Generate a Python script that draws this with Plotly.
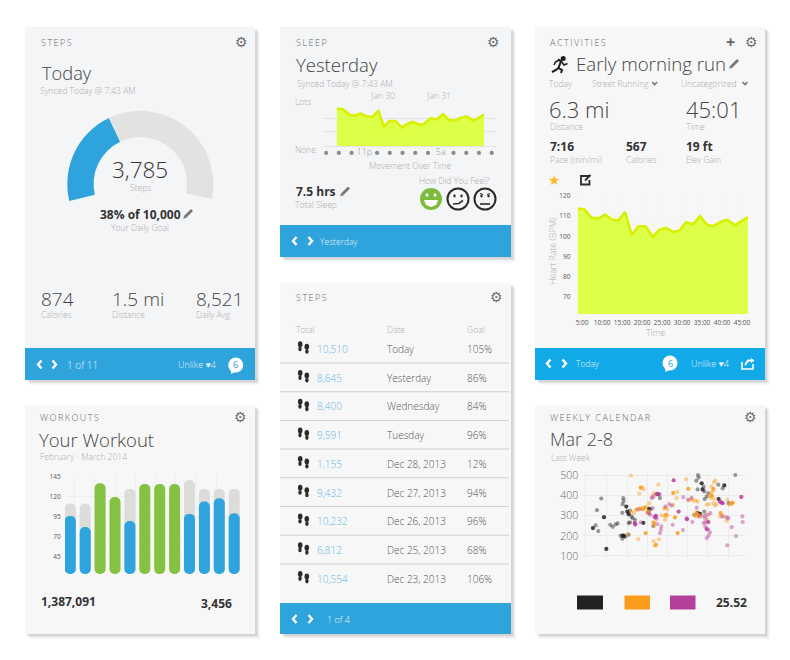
import plotly.graph_objects as go

W, H = 790, 660

# gauge
gauge_values = [38, 22.4, 25.9, 13.7, 75.6]

# sleep chart
sleep_hours = [-2.15, -1.68, -1.13, -0.73, -0.31, 0.18, 0.63, 1.10, 1.54, 1.96, 2.46, 2.93, 3.38,
               3.77, 4.24, 4.69, 5.18, 5.68, 6.18, 6.65, 7.12, 7.59, 8.04, 8.56, 9.01, 9.40]
sleep_move = [89.6, 88, 74.4, 72.8, 78.4, 71.2, 69.6, 84, 45.6, 60, 60, 44, 52.8,
              57.6, 52, 52.8, 66.4, 64, 76, 62.4, 60.8, 68, 70.4, 60.8, 68, 75.2]
sleep_dots = [-3, -2, -1, 1, 2, 3, 4, 5, 7, 8, 9, 10]
sleep_ticks = [0, 6]
sleep_ticktext = ["11p", "5a"]

# heart rate
run_minutes = [3.9, 5.6, 7.3, 9.1, 10.75, 12.4, 14.1, 15.75, 17.4, 19.1, 20.9, 22.7, 24.25,
               26, 27.7, 29.3, 31, 32.8, 34.5, 36.25, 37.8, 39.7, 41.3, 43.25, 44.9, 46.5]
run_bpm = [113.8, 113.3, 109.3, 108.8, 110.8, 108.3, 107.8, 112, 100.6, 105, 105, 99.7, 103,
           104.2, 102.2, 102.7, 107, 106, 110, 105.7, 105, 107.2, 108.2, 105.4, 107.7, 109.5]
run_ticks = [5, 10, 15, 20, 25, 30, 35, 40, 45]
run_ticktext = ["5:00", "10:00", "15:00", "20:00", "25:00", "30:00", "35:00", "40:00", "45:00"]
bpm_ticks = [70, 80, 90, 100, 110, 120]

# workouts
workout_idx = [0, 1, 2, 3, 4, 5, 6, 7, 8, 9, 10, 11]
workout_done = [95.7, 82, 136.4, 119.3, 89.4, 135.5, 135.5, 135.5, 98.2, 113.5, 117.7, 99]
workout_goal = [111, 111, None, None, 129.3, None, None, None, 140.5, 129.3, 129.3, 129.3]
workout_ticks = [45, 70, 95, 120, 145]

# steps table
step_totals = ["10,510", "8,645", "8,400", "9,591", "1,155", "9,432", "10,232", "6,812", "10,554"]
step_dates = ["Today", "Yesterday", "Wednesday", "Tuesday", "Dec 28, 2013", "Dec 27, 2013",
              "Dec 26, 2013", "Dec 25, 2013", "Dec 23, 2013"]
step_goals = ["105%", "86%", "84%", "96%", "12%", "94%", "96%", "68%", "106%"]

# weekly calendar scatter
black_x = [137, 145, 141, 154, 181, 188, 197, 203, 212, 217, 221, 226, 218, 221, 220, 217, 240, 244, 248, 255, 240, 236,
           236, 293, 302, 330, 326, 323, 310, 439, 444, 446, 461, 463, 443, 464, 470, 475, 505, 518, 556, 536, 463, 433]
black_y = [252, 224, 328, 386, 255, 245, 257, 262, 201, 186, 202, 196, 358, 374, 388, 315, 326, 297, 288, 280, 267, 264,
           206, 318, 333, 388, 407, 407, 249, 475, 503, 490, 445, 421, 431, 383, 396, 412, 455, 436, 503, 363, 321, 305]
black_dense_x = [129, 162, 169, 229, 232, 236, 280, 297, 455, 458, 523, 506, 443, 450, 222, 218]
black_dense_y = [239, 293, 135, 346, 321, 308, 265, 335, 462, 431, 451, 383, 313, 310, 199, 201]
orange_x = [243, 276, 281, 268, 325, 312, 308, 298, 290, 282, 272, 260, 252, 245, 342, 346, 352, 345, 352, 335, 294, 310,
            311, 265, 232, 327, 311, 315, 382, 380, 408, 436, 418, 424, 430, 437, 443, 476, 495, 499, 490, 483, 492, 496,
            484, 478, 485, 492, 482, 490, 440, 434, 437, 454, 476, 522, 532, 539, 530, 510, 470, 345, 370, 472]
orange_y = [500, 442, 432, 411, 455, 412, 399, 363, 346, 338, 340, 330, 313, 321, 336, 341, 333, 297, 302, 302, 313, 269,
            250, 184, 209, 183, 173, 151, 419, 388, 482, 523, 379, 384, 374, 376, 371, 358, 351, 358, 424, 416, 467, 475,
            445, 401, 396, 384, 388, 363, 321, 305, 297, 297, 305, 297, 379, 355, 275, 297, 355, 280, 355, 280]
orange_dense_x = [272, 370, 415, 287, 318, 375, 383, 348, 278, 284, 260, 490, 485, 512, 548, 545, 440, 446, 295, 312]
orange_dense_y = [440, 414, 434, 214, 156, 292, 214, 305, 333, 341, 331, 434, 401, 313, 366, 361, 308, 302, 321, 264]
magenta_x = [318, 329, 310, 308, 298, 300, 312, 320, 256, 272, 268, 322, 334, 333, 330, 346, 358, 365, 400, 414, 410, 399,
             368, 427, 440, 448, 461, 466, 470, 481, 466, 475, 480, 476, 470, 532, 545, 558, 517, 530, 535, 577, 578, 466,
             462, 425, 305]
magenta_y = [407, 407, 394, 338, 313, 305, 297, 285, 255, 267, 333, 259, 247, 231, 214, 346, 358, 351, 393, 379, 288, 229,
             255, 269, 341, 297, 264, 288, 305, 313, 247, 231, 217, 201, 189, 153, 244, 199, 297, 292, 288, 297, 269, 269,
             300, 389, 388]
magenta_dense_x = [371, 322, 316, 254, 386, 411, 475, 470, 510, 514, 518, 589, 574, 318, 256]
magenta_dense_y = [477, 409, 292, 264, 321, 283, 269, 234, 371, 366, 363, 275, 394, 300, 259]
cal_x_grid = [108, 170, 232, 292, 352, 412, 474, 534, 588]
cal_y_ticks = [100, 200, 300, 400, 500]

FONT = "Open Sans"
SOFT = "#adadad"
MID = "#666666"
BLUE = "#2fa3dc"
BLUE2 = "#12a9e8"
LIME = "#dcff47"
LIME_LINE = "#d9f000"
GRID = "#ececec"
FOOT_TEXT = "#e0f1fb"


def px(x):
    return x / W


def py(y):
    return 1 - y / H


shapes = []
notes = []


def rect(x0, y0, x1, y1, color, layer="below"):
    shapes.append(dict(type="rect", xref="paper", yref="paper", x0=px(x0), x1=px(x1), y0=py(y1), y1=py(y0),
                       fillcolor=color, line_width=0, layer=layer))


def oval(cx, cy, rx, ry, color, line=None, width=0):
    shapes.append(dict(type="circle", xref="paper", yref="paper", x0=px(cx - rx), x1=px(cx + rx),
                       y0=py(cy + ry), y1=py(cy - ry), fillcolor=color, line=dict(color=line, width=width),
                       layer="above"))


def path(points, color, width=0, fill=None, close=False):
    d = "M" + " L".join(f"{px(a):.5f},{py(b):.5f}" for a, b in points) + (" Z" if close else "")
    shapes.append(dict(type="path", xref="paper", yref="paper", path=d, fillcolor=fill,
                       line=dict(color=color, width=width), layer="above"))


def txt(x, y, s, size=8.5, color=SOFT, anchor="left", weight=300, family=FONT, angle=0):
    notes.append(dict(x=px(x), y=py(y), xref="paper", yref="paper", text=s, showarrow=False, xanchor=anchor,
                      yanchor="middle", textangle=angle, borderpad=0,
                      font=dict(family=family, size=size, color=color, weight=weight)))


def card(x0, y0, x1, y1, bg="#f7f7f7"):
    for off, a in [(5, 0.025), (4, 0.035), (3, 0.05), (2, 0.06)]:
        rect(x0 + off, y0 + off, x1 + off, y1 + off, f"rgba(0,0,0,{a})")
    rect(x0, y0, x1, y1, bg)


def header(x, y, label, gear_x):
    txt(x, y, "\u2009".join(label), 9, MID)
    txt(gear_x, y - 0.5, "⚙", 14, "#6e6e6e", "center", 700, "DejaVu Sans")


def chevrons(x0, x1, y):
    path([(x0 + 2.5, y - 4), (x0 - 1, y), (x0 + 2.5, y + 4)], "white", 2.4)
    path([(x1 - 2.5, y - 4), (x1 + 1, y), (x1 - 2.5, y + 4)], "white", 2.4)


def bubble(x, y, color):
    path([(x - 5, y + 4), (x - 4.5, y + 9), (x + 1, y + 6)], "white", 0, "white", True)
    oval(x, y, 7.5, 7.5, "white")
    txt(x, y, "6", 9, color, "center", 400)


def pencil(x, y):
    path([(x + 4, y - 4), (x - 2.5, y + 2.5)], "#777777", 2.8)
    path([(x - 3.8, y + 1.2), (x - 1.2, y + 3.8), (x - 4.8, y + 4.8)], "#777777", 0, "#777777", True)


def feet(y):
    for cx, top in [(300.2, y - 7.5), (306.8, y - 5)]:
        oval(cx, top + 2.8, 2.3, 3, "#2b2b2b")
        oval(cx - 0.2 + (0.3 if cx > 303 else 0), top + 7.5, 1.7, 2.3, "#2b2b2b")


# cards
card(25, 27, 255, 380, "#f4f5f7")
card(280, 27, 511, 257, "#f4f5f7")
card(535, 27, 765, 380)
card(25, 405, 255, 634)
card(280, 283, 511, 634)
card(535, 405, 765, 634)
rect(25, 348, 255, 380, BLUE)
rect(280, 225, 511, 257, BLUE)
rect(535, 348, 765, 380, BLUE2)
rect(280, 603, 511, 634, BLUE)

# steps card
header(39.5, 42.5, "STEPS", 241.5)
txt(41, 72, "Today", 18.3, "#444444")
txt(39, 90.5, "Synced Today @ 7:43 AM")
txt(140, 169.5, "3,785", 22.5, "#333333", "center")
txt(140, 187, "Steps", 8.5, SOFT, "center")
txt(140, 215, "38% of 10,000", 12, "#333333", "center", 700)
pencil(188, 214)
txt(140, 227, "Your Daily Goal", 8.5, SOFT, "center")
txt(39.5, 298.5, "874", 19, "#444444")
txt(39.5, 314.5, "Calories")
txt(111, 298.5, "1.5 mi", 19, "#444444")
txt(111, 314.5, "Distance")
txt(194.5, 298.5, "8,521", 19, "#444444")
txt(194.5, 314.5, "Daily Avg")
chevrons(39, 55, 364.5)
txt(65.5, 364.5, "1 of 11", 10, FOOT_TEXT)
txt(177, 365, "Unlike ♥4", 9, FOOT_TEXT)
bubble(235.7, 365, BLUE)

# sleep card
header(295, 42.5, "SLEEP", 493.5)
txt(295, 64.5, "Yesterday", 18.5, "#444444")
txt(295.5, 84, "Synced Today @ 7:43 AM")
txt(293.5, 101, "Lots")
txt(293.5, 149, "None")
txt(382, 96, "Jan 30", 8.7, SOFT, "center")
txt(438.5, 96, "Jan 31", 8.7, SOFT, "center")
txt(410.5, 165, "Movement Over Time", 8.5, SOFT, "center")
txt(455, 181, "How Did You Feel?", 8.5, SOFT, "center")
txt(295, 191.5, "7.5 hrs", 12, "#333333", weight=700)
pencil(345, 191.5)
txt(293.5, 204, "Total Sleep")
chevrons(294, 311, 241)
txt(319, 241, "Yesterday", 8.5, FOOT_TEXT)
oval(431, 199, 11, 11, "#7cbb3c")
oval(427, 195, 1.5, 1.8, "white")
oval(435, 195, 1.5, 1.8, "white")
path([(424, 200), (438, 200), (436, 205), (431, 207), (426, 205)], "white", 0, "white", True)
for cx in (458, 485):
    oval(cx, 199, 10.5, 10.5, "rgba(0,0,0,0)", "#2b2b2b", 2)
    oval(cx - 3.5, 196, 1.2, 1.4, "#2b2b2b")
    oval(cx + 3.5, 196, 1.2, 1.4, "#2b2b2b")
path([(453, 204), (459, 203.5), (463, 200.5)], "#2b2b2b", 1.6)
path([(480, 204), (490, 204)], "#2b2b2b", 1.6)
path([(480, 193.5), (483, 194.5)], "#2b2b2b", 1)
path([(487, 194.5), (490, 193.5)], "#2b2b2b", 1)

# activities card
header(549, 42.5, "ACTIVITIES", 751)
txt(730.7, 42, "+", 16, "#666666", "center", 700)
txt(575, 63, "Early morning run", 18.7, "#444444")
pencil(734, 64)
oval(563.2, 58.5, 2.5, 2.5, "#1d1d1d")
path([(558, 59.5), (561, 61), (558.5, 68), (562, 70), (561, 73)], "#1d1d1d", 2)
path([(561.5, 61.5), (564, 65), (567.5, 63.5)], "#1d1d1d", 1.6)
path([(558.5, 68), (556, 70), (552, 72)], "#1d1d1d", 2)
path([(559, 60), (555.5, 62), (554, 65)], "#1d1d1d", 1.6)
txt(548, 83.5, "Today")
txt(591, 83.5, "Street Running")
txt(680, 83.5, "Uncategorized")
for cx in (654.7, 745):
    path([(cx - 2.5, 82), (cx, 84.5), (cx + 2.5, 82)], "#777777", 1.6)
txt(548, 109, "6.3 mi", 22, "#444444")
txt(549, 126, "Distance")
txt(684.5, 109, "45:01", 22, "#444444")
txt(684.5, 126, "Time")
txt(548.5, 147, "7:16", 12, "#333333", weight=700)
txt(548.5, 159, "Pace (min/mi)")
txt(625, 147, "567", 12, "#333333", weight=700)
txt(625, 159, "Calories")
txt(684.5, 147, "19 ft", 12, "#333333", weight=700)
txt(684.5, 159, "Elev Gain")
txt(554.5, 179.5, "★", 14, "#fdb92e", "center", 400, "DejaVu Sans")
path([(589, 176), (581, 176), (581, 184.5), (589.5, 184.5), (589.5, 180)], "#2b2b2b", 1.8)
path([(585, 180.5), (590.5, 175)], "#2b2b2b", 1.8)
txt(655, 333, "Time", 8.8, SOFT, "center")
txt(553, 251, "Heart Rate (BPM)", 8.8, SOFT, "center", angle=-90)
chevrons(548, 565, 363.5)
txt(574.5, 363.5, "Today", 8.5, FOOT_TEXT)
bubble(670, 363, BLUE2)
txt(689.5, 363.5, "Unlike ♥4", 9, FOOT_TEXT)
path([(742, 362), (742, 369), (753, 369), (753, 364)], "white", 1.6)
path([(745, 365), (748, 360.5), (753, 360.5)], "white", 1.8)
path([(751, 358), (754.5, 360.5), (751, 363)], "white", 0, "white", True)

# workouts card
header(39, 417, "WORKOUTS", 240)
txt(37.5, 439, "Your Workout", 18.5, "#444444")
txt(38.5, 456.5, "February - March 2014")
txt(40, 601.5, "1,387,091", 12, "#333333", weight=700)
txt(200, 603, "3,456", 12, "#333333", weight=700)

# steps table card
header(295, 297.5, "STEPS", 496)
txt(295, 329.5, "Total")
txt(386, 329.5, "Date")
txt(466, 329.5, "Goal")
for i, (total, date, goal) in enumerate(zip(step_totals, step_dates, step_goals)):
    y = 349 + i * 28.7
    feet(y)
    txt(316, y, total, 10, "#63b8e4")
    txt(386, y, date, 10, "#555555")
    txt(466, y, goal, 10, "#555555")
    if i < 8:
        rect(280, y + 13.5, 509, y + 14.5, "#cfcfcf")
chevrons(294, 311, 619)
txt(326, 619, "1 of 4", 9, FOOT_TEXT)

# calendar card
header(549, 417, "WEEKLY CALENDAR", 750)
txt(549, 439, "Mar 2-8", 18, "#444444")
txt(549.5, 457, "Last Week")
rect(577, 595.5, 603, 609.5, "#222222", "above")
rect(624.5, 595.5, 650, 609.5, "#fa9d1c", "above")
rect(670, 595.5, 695.5, 609.5, "#b5409a", "above")
txt(748, 602, "25.52", 12, "#333333", "right", 700)

fig = go.Figure()

fig.add_trace(go.Pie(values=gauge_values, sort=False, direction="clockwise", rotation=-103.4, hole=0.64,
                     textinfo="none", hoverinfo="skip", showlegend=False,
                     marker=dict(colors=[BLUE, "#e2e2e0", "#e2e2e0", "#e2e2e0", "rgba(0,0,0,0)"],
                                 line=dict(width=0)),
                     domain=dict(x=[px(67.3), px(213.3)], y=[py(257), py(111)])))

fill_kw = dict(mode="lines", fill="tozeroy", fillcolor=LIME, line=dict(color=LIME_LINE, width=2.6),
               showlegend=False, hoverinfo="skip")
fig.add_trace(go.Scatter(x=sleep_hours, y=sleep_move, xaxis="x", yaxis="y", **fill_kw))
fig.add_trace(go.Scatter(x=sleep_dots, y=[-16.5] * len(sleep_dots), xaxis="x", yaxis="y", mode="markers",
                         showlegend=False, hoverinfo="skip", marker=dict(color="#8a8a8a", size=4.2, line_width=0)))
fig.add_trace(go.Scatter(x=run_minutes, y=run_bpm, xaxis="x2", yaxis="y2", **fill_kw))

# a bar with a base gets its corners rounded at both ends
BASE = 23.4
fig.add_trace(go.Bar(x=workout_idx, y=[None if g is None else g - BASE for g in workout_goal], base=BASE,
                     xaxis="x3", yaxis="y3", width=0.74, showlegend=False, hoverinfo="skip",
                     marker=dict(color="#dcdcda", cornerradius=5.5)))
done_colors = [BLUE if g is not None else "#85c143" for g in workout_goal]
fig.add_trace(go.Bar(x=workout_idx, y=[d - BASE for d in workout_done], base=BASE,
                     xaxis="x3", yaxis="y3", width=0.74, showlegend=False, hoverinfo="skip",
                     marker=dict(color=done_colors, cornerradius=5.5)))

for sx, sy, color, alpha in [(black_x, black_y, "#222222", 0.45), (black_dense_x, black_dense_y, "#222222", 0.85),
                             (orange_x, orange_y, "#fa9d1c", 0.45), (orange_dense_x, orange_dense_y, "#fa9d1c", 0.85),
                             (magenta_x, magenta_y, "#b5409a", 0.45), (magenta_dense_x, magenta_dense_y, "#b5409a", 0.85)]:
    fig.add_trace(go.Scatter(x=sx, y=sy, mode="markers", xaxis="x4", yaxis="y4", showlegend=False, hoverinfo="skip",
                             cliponaxis=False, marker=dict(color=color, size=4.2, opacity=alpha, line_width=0)))

tick_font = dict(family=FONT, size=6.5, color="#555555")
hide_tick = dict(ticks="outside", ticklen=2, tickcolor="rgba(0,0,0,0)")
fig.update_layout(
    template="none",
    width=W, height=H, margin=dict(l=0, r=0, t=0, b=0), paper_bgcolor="white", plot_bgcolor="rgba(0,0,0,0)",
    barmode="overlay", hovermode=False, shapes=shapes, annotations=notes, font=dict(family=FONT),
    xaxis=dict(domain=[px(324.3), px(495.7)], range=[-3.14, 10.31], tickvals=sleep_ticks, ticktext=sleep_ticktext,
               tickfont=dict(family=FONT, size=9, color="#9a9a9a", weight=300), showgrid=False, zeroline=False,
               tickangle=0, ticks="", fixedrange=True, anchor="free", position=py(145), showline=False),
    yaxis=dict(domain=[py(156.4), py(104.3)], range=[-24.9, 100], tickvals=[0, 35.2, 66.4, 100], showticklabels=False,
               gridcolor="#e3e3e3", zeroline=False, fixedrange=True, anchor="x", showline=False),
    xaxis2=dict(domain=[px(577.7), px(748)], range=[3.9, 46.5], tickvals=run_ticks, ticktext=run_ticktext,
                tickfont=tick_font, gridcolor="#f3f3f3", zeroline=False, tickangle=0, fixedrange=True, anchor="y2",
                showline=False, **hide_tick),
    yaxis2=dict(domain=[py(314), py(196)], range=[61.4, 120], tickvals=bpm_ticks, tickfont=tick_font,
                gridcolor="#f3f3f3", zeroline=False, fixedrange=True, anchor="x2", showline=False,
                ticks="outside", ticklen=5, tickcolor="rgba(0,0,0,0)"),
    xaxis3=dict(domain=[px(65), px(240)], range=[-0.356, 11.39], tickvals=[0.27, 1.63, 3.0, 4.36, 5.73, 7.09, 8.45, 9.8],
                showticklabels=False, gridcolor="#efefef", zeroline=False, fixedrange=True, anchor="y3", showline=False),
    yaxis3=dict(domain=[py(574), py(476.3)], range=[23.4, 145], tickvals=workout_ticks, tickfont=tick_font,
                gridcolor="#efefef", zeroline=False, fixedrange=True, anchor="x3", showline=False, **hide_tick),
    xaxis4=dict(domain=[px(583.3), px(746)], range=[100, 588], tickvals=cal_x_grid, showticklabels=False,
                gridcolor=GRID, zeroline=False, fixedrange=True, anchor="y4", showline=False),
    yaxis4=dict(domain=[py(558), py(474)], range=[90, 508], tickvals=cal_y_ticks,
                tickfont=dict(family=FONT, size=10.5, color="#666666", weight=300), gridcolor=GRID, zeroline=False,
                fixedrange=True, anchor="x4", showline=False, **hide_tick),
)

fig.write_html("out.html", config={"displayModeBar": False},
               post_script="document.body.style.margin='0';document.body.style.overflow='hidden';")
